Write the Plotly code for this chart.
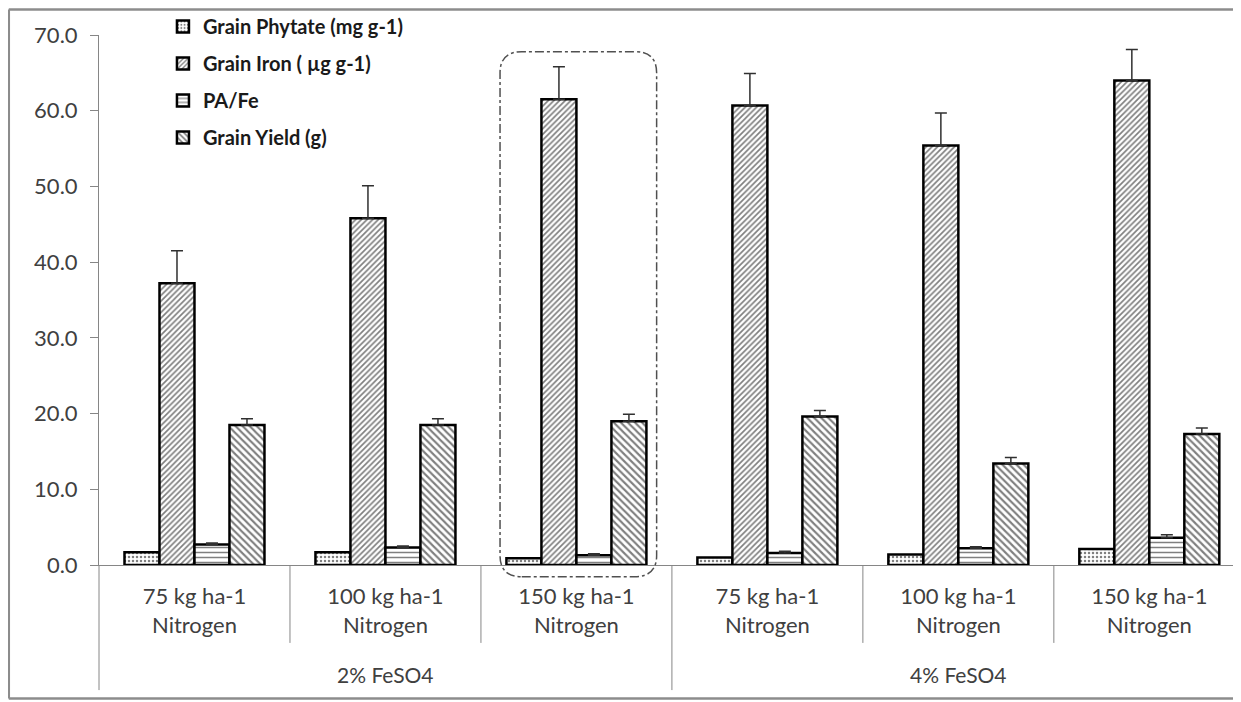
import plotly.graph_objects as go

# ---------------- data ----------------
nitrogen = ["75 kg ha-1<br>Nitrogen", "100 kg ha-1<br>Nitrogen", "150 kg ha-1<br>Nitrogen",
            "75 kg ha-1<br>Nitrogen", "100 kg ha-1<br>Nitrogen", "150 kg ha-1<br>Nitrogen"]
groups = ["2% FeSO4", "4% FeSO4"]
series_names = ["Grain Phytate (mg g-1)", "Grain Iron ( µg g-1)", "PA/Fe", "Grain Yield (g)"]

phytate = [1.7, 1.7, 0.9, 1.0, 1.4, 2.1]
phytate_err = [0.0, 0.0, 0.0, 0.0, 0.0, 0.0]
iron = [37.2, 45.8, 61.5, 60.7, 55.4, 64.0]
iron_err = [4.3, 4.3, 4.3, 4.2, 4.3, 4.1]
pafe = [2.7, 2.3, 1.3, 1.6, 2.2, 3.6]
pafe_err = [0.2, 0.2, 0.2, 0.2, 0.2, 0.4]
grain_yield = [18.5, 18.5, 19.0, 19.6, 13.4, 17.3]
yield_err = [0.8, 0.8, 0.9, 0.8, 0.8, 0.8]

y_ticks = [0, 10, 20, 30, 40, 50, 60, 70]

# ---------------- figure ----------------
FONT = "Lato"
TXT = "#404040"
x = list(range(len(nitrogen)))
xmin, xmax = -0.5, 5.48

patterns = [
    dict(shape=".", size=4, solidity=0.3),
    dict(shape="/", size=4, solidity=0.42),
    dict(shape="-", size=5, solidity=0.3),
    dict(shape="\\", size=5, solidity=0.42),
]
values = [phytate, iron, pafe, grain_yield]
errors = [phytate_err, iron_err, pafe_err, yield_err]

fig = go.Figure()
for i, (name, vals, errs, pat) in enumerate(zip(series_names, values, errors, patterns)):
    fig.add_trace(go.Bar(
        x=x, y=vals, name=name, legendgroup=str(i),
        marker=dict(color="white",
                    line=dict(color="black", width=2.5),
                    pattern=dict(fillmode="overlay", fgcolor="black", bgcolor="white", **pat)),
        error_y=dict(type="data", symmetric=False, array=errs, arrayminus=[0] * len(errs),
                     color="#303030", thickness=1.5, width=6, visible=any(e > 0 for e in errs)),
    ))

def px_x(v):
    return (v - xmin) / (xmax - xmin)

def py(v):
    return v / 70.0

shapes = []
# y axis extension down through label area
shapes.append(dict(type="line", xref="paper", yref="paper", x0=0, x1=0, y0=-0.236, y1=0,
                   line=dict(color="#868686", width=1)))
# category dividers
for k in range(len(nitrogen) - 1):
    bottom = -0.236 if k == 2 else -0.147
    shapes.append(dict(type="line", xref="paper", yref="paper", x0=px_x(k + 0.5), x1=px_x(k + 0.5),
                       y0=bottom, y1=0, line=dict(color="#868686", width=1)))
# dash-dot rounded box around the 2% / 150 kg category
bx0, bx1 = px_x(2 - 0.40), px_x(2 + 0.42)
by0, by1 = py(-1.54), py(67.8)
rx, ry = 0.019, 0.04
path = (f"M{bx0+rx},{by0} L{bx1-rx},{by0} Q{bx1},{by0} {bx1},{by0+ry} "
        f"L{bx1},{by1-ry} Q{bx1},{by1} {bx1-rx},{by1} L{bx0+rx},{by1} "
        f"Q{bx0},{by1} {bx0},{by1-ry} L{bx0},{by0+ry} Q{bx0},{by0} {bx0+rx},{by0} Z")
shapes.append(dict(type="path", xref="paper", yref="paper", path=path,
                   line=dict(color="#505050", width=1.5, dash="dashdot")))
# outer chart frame (left, top, bottom sides; right side falls outside the picture)
frame_col = "#8c8c8c"
fx0, fx1, fy0, fy1 = -0.079, 1.1, -0.252, 1.048
for (a, b, c, d) in [(fx0, fy0, fx0, fy1), (fx0, fy1, fx1, fy1), (fx0, fy0, fx1, fy0)]:
    shapes.append(dict(type="line", xref="paper", yref="paper", x0=a, y0=b, x1=c, y1=d,
                       line=dict(color=frame_col, width=2.5)))

annotations = []
for gi, g in enumerate(groups):
    annotations.append(dict(xref="x", yref="paper", x=1 + 3 * gi, y=-0.207, text=g, showarrow=False,
                            font=dict(family=FONT, size=21, color=TXT), yanchor="middle"))

# the page body adds an 8px offset, so margins are reduced by 8px on the left/top
fig.update_layout(
    width=1241, height=702,
    margin=dict(l=91, r=8, t=27, b=145, autoexpand=False),
    paper_bgcolor="white", plot_bgcolor="white",
    barmode="group", bargap=0.267, bargroupgap=0,
    shapes=shapes, annotations=annotations,
    legend=dict(x=0.056, y=1.053, xanchor="left", yanchor="top",
                font=dict(family=FONT, size=20, color="#1a1a1a", weight="bold"),
                bgcolor="rgba(0,0,0,0)", traceorder="grouped", tracegroupgap=8,
                itemwidth=30),
    xaxis=dict(range=[xmin, xmax], tickvals=x, ticktext=nitrogen, showgrid=False,
               showline=True, linecolor="#868686", linewidth=1, ticks="", zeroline=False,
               ticklabelstandoff=12,
               tickfont=dict(family=FONT, size=22, color=TXT)),
    yaxis=dict(range=[0, 70], tickvals=y_ticks, tickformat=".1f", showgrid=False, zeroline=False,
               showline=True, linecolor="#868686", linewidth=1, ticks="outside", ticklen=8,
               ticklabelstandoff=8,
               tickcolor="#868686", tickfont=dict(family=FONT, size=22, color=TXT)),
)

fig.write_html("out.html")
